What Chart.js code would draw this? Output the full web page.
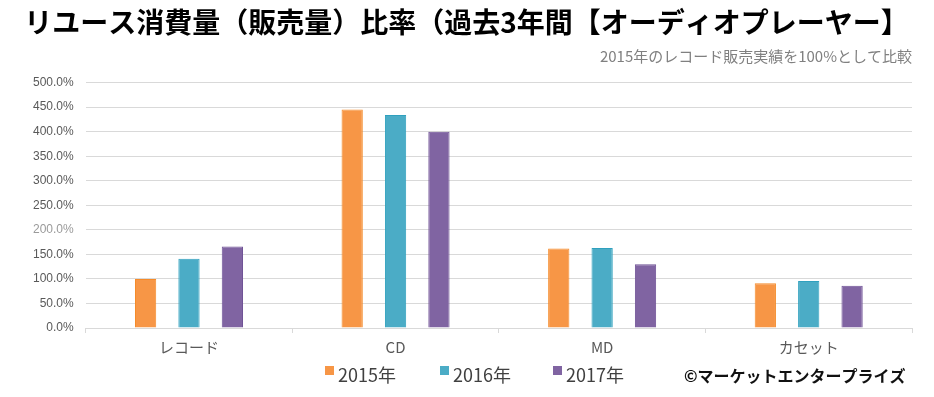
<!DOCTYPE html>
<html>
<head>
<meta charset="utf-8">
<script src="https://cdn.jsdelivr.net/npm/chart.js@4"></script>
<style>
  html, body { margin: 0; padding: 0; background: #fff; }
  #wrap { width: 934px; height: 397px; position: relative; }
</style>
</head>
<body>
<div id="wrap"><canvas id="chart" width="934" height="397"></canvas></div>
<script>
// values (percent of 2015 record sales)
const categories = ['レコード', 'CD', 'MD', 'カセット']
const years = ['2015年', '2016年', '2017年']
const values2015 = [100, 445, 162, 91]
const values2016 = [141, 434, 163, 96]
const values2017 = [166, 400, 130, 86]
const fillColors = ['#F79646', '#4BACC6', '#8064A2']
const edgeColors = ['#F58B2A', '#2FA0BE', '#6F5296']

const jpFont = '"Noto Sans CJK JP", "Noto Sans", sans-serif'

// legend row + copyright line drawn under the axis
const legendX = [325, 440, 553]
const footerPlugin = {
    id: 'footer',
    afterDraw(chart) {
        const ctx = chart.ctx
        ctx.save()
        ctx.textBaseline = 'middle'
        ctx.textAlign = 'left'
        chart.data.datasets.forEach((ds, i) => {
            ctx.fillStyle = ds.backgroundColor
            ctx.fillRect(legendX[i], 366, 9, 9)
            ctx.fillStyle = '#404040'
            ctx.font = '18px ' + jpFont
            ctx.fillText(ds.label, legendX[i] + 13, 375)
        })
        ctx.font = 'bold 16px ' + jpFont
        ctx.fillStyle = '#111'
        ctx.fillText('©マーケットエンタープライズ', 684, 376)
        ctx.restore()
    }
}

const seriesValues = [values2015, values2016, values2017]
const datasets = years.map((y, i) => ({
    label: y,
    data: seriesValues[i],
    backgroundColor: fillColors[i],
    borderColor: edgeColors[i],
    borderWidth: 1,
    categoryPercentage: 0.63,
    barPercentage: 0.49
}))

new Chart(document.getElementById('chart'), {
    type: 'bar',
    data: { labels: categories, datasets: datasets },
    plugins: [footerPlugin],
    options: {
        responsive: false,
        animation: false,
        layout: { padding: { left: 21, right: 22, top: 4, bottom: 36 } },
        scales: {
            x: {
                offset: true,
                grid: {
                    display: true,
                    offset: true,
                    drawOnChartArea: false,
                    drawTicks: true,
                    tickLength: 5,
                    color: '#d9d9d9'
                },
                border: { display: false },
                ticks: {
                    color: '#595959',
                    font: { family: jpFont, size: 15 },
                    padding: 5
                }
            },
            y: {
                min: 0,
                max: 500,
                grid: { color: '#d9d9d9', drawTicks: false, lineWidth: 1 },
                border: { display: false },
                ticks: {
                    stepSize: 50,
                    padding: 12,
                    color: ctx => ctx.tick && ctx.tick.value === 200 ? '#9a9a9a' : '#595959',
                    font: { family: '"Liberation Sans", Arial, sans-serif', size: 12 },
                    callback: v => v.toFixed(1) + '%'
                }
            }
        },
        plugins: {
            title: {
                display: true,
                text: 'リユース消費量（販売量）比率（過去3年間【オーディオプレーヤー】',
                color: '#000',
                font: { family: jpFont, size: 28, weight: 'bold' },
                padding: { top: 2, bottom: 8 }
            },
            subtitle: {
                display: true,
                text: '2015年のレコード販売実績を100%として比較',
                align: 'end',
                color: '#808080',
                font: { family: jpFont, size: 15 },
                padding: { top: 0, bottom: 17 }
            },
            legend: { display: false },
            tooltip: { enabled: false }
        }
    }
})
</script>
</body>
</html>
